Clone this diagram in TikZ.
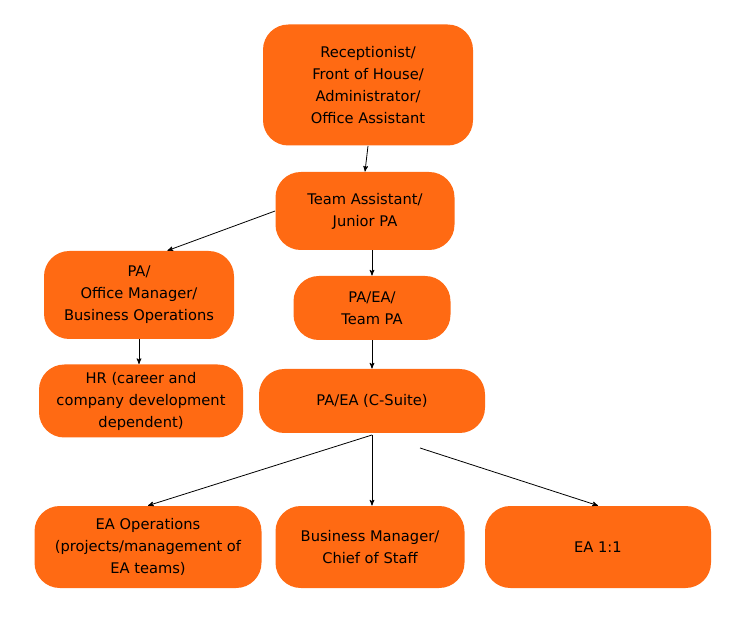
\documentclass[tikz,border=0pt]{standalone}
\usepackage{fontspec}
\setmainfont{DejaVu Sans}
\usetikzlibrary{arrows,positioning}
\definecolor{boxorange}{HTML}{FF6A13}
\begin{document}
\begin{tikzpicture}[x=0.75pt, y=-0.75pt, ->, >=stealth', semithick,
  box/.style={draw=none, fill=boxorange, rounded corners=19pt, align=center,
    font=\fontsize{11}{16.5}\selectfont, inner sep=0pt}]
\useasboundingbox (0,0) rectangle (754,620);
\node[box, minimum width=157.5pt, minimum height=90.75pt] (rec) at (368,85) {Receptionist/\\Front of House/\\Administrator/\\Office Assistant};
\node[box, minimum width=134.25pt, minimum height=58.5pt] (team) at (365,211) {Team Assistant/\\Junior PA};
\node[box, minimum width=142.5pt, minimum height=66pt] (office) at (139,295) {PA/\\Office Manager/\\Business Operations};
\node[box, minimum width=117.75pt, minimum height=48pt] (paea) at (372,308) {PA/EA/\\Team PA};
\node[box, minimum width=153pt, minimum height=54.75pt] (hr) at (141,401) {HR (career and\\company development\\dependent)};
\node[box, minimum width=169.5pt, minimum height=48pt] (csuite) at (372,401) {PA/EA (C-Suite)};
\node[box, minimum width=170.25pt, minimum height=61.5pt] (eaops) at (148,547) {EA Operations\\(projects/management of\\EA teams)};
\node[box, minimum width=141.75pt, minimum height=61.5pt] (bm) at (370,547) {Business Manager/\\Chief of Staff};
\node[box, minimum width=169.5pt, minimum height=61.5pt] (ea) at (598,547) {EA 1:1};
\coordinate (c1) at (372,435);
\coordinate (c2) at (420,448);
\draw (rec.south) -- (team.north);
\draw (team.west) -- ([xshift=-50.25pt]office.north east);
\draw (paea.north |- team.south) -- (paea.north);
\draw (paea.south) -- (csuite.north);
\draw (office.south) -- (office.south |- hr.north);
\draw (c1) -- (eaops.north);
\draw (c1) -- (c1 |- bm.north);
\draw (c2) -- (ea.north);
\end{tikzpicture}
\end{document}
